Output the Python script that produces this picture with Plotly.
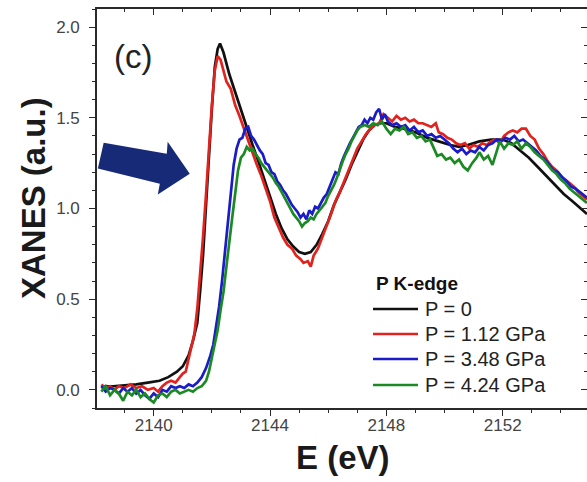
import plotly.graph_objects as go

# P K-edge XANES spectra at four pressures
energy_p0 = [2138.2, 2138.6, 2139.0, 2139.4, 2139.8, 2140.2, 2140.5, 2140.8, 2141.0, 2141.2,
             2141.35, 2141.5, 2141.6, 2141.7, 2141.8, 2141.9, 2142.0, 2142.1, 2142.2, 2142.28,
             2142.4, 2142.6, 2142.8, 2143.0, 2143.2, 2143.4, 2143.6, 2143.8, 2144.0, 2144.2,
             2144.4, 2144.6, 2144.8, 2145.0, 2145.2, 2145.4, 2145.6, 2145.8, 2146.0, 2146.2,
             2146.4, 2146.6, 2146.8, 2147.0, 2147.2, 2147.4, 2147.6, 2147.8, 2148.0, 2148.3,
             2148.6, 2149.0, 2149.4, 2149.8, 2150.2, 2150.5, 2150.8, 2151.2, 2151.6, 2152.0,
             2152.3, 2152.6, 2152.9, 2153.2, 2153.5, 2153.8, 2154.1, 2154.4, 2154.7, 2154.9]
xanes_p0 = [0.02, 0.02, 0.025, 0.03, 0.04, 0.05, 0.07, 0.10, 0.13, 0.19,
            0.27, 0.37, 0.55, 0.75, 1.02, 1.30, 1.55, 1.78, 1.88, 1.91,
            1.86, 1.74, 1.64, 1.55, 1.45, 1.35, 1.26, 1.16, 1.06, 0.97,
            0.89, 0.83, 0.79, 0.76, 0.75, 0.76, 0.80, 0.86, 0.93, 1.02,
            1.09, 1.16, 1.24, 1.31, 1.38, 1.43, 1.46, 1.47, 1.47, 1.45,
            1.44, 1.42, 1.39, 1.37, 1.35, 1.34, 1.35, 1.37, 1.38, 1.38,
            1.36, 1.32, 1.28, 1.23, 1.18, 1.13, 1.08, 1.04, 1.00, 0.97]

energy_p112 = [2138.2, 2138.35, 2138.5, 2138.65, 2138.8, 2139.0, 2139.2, 2139.4, 2139.6, 2139.8,
               2140.0, 2140.15, 2140.3, 2140.45, 2140.6, 2140.75, 2140.9, 2141.0, 2141.1, 2141.2,
               2141.3, 2141.4, 2141.5, 2141.6, 2141.7, 2141.8, 2141.9, 2142.0, 2142.1, 2142.2,
               2142.3, 2142.4, 2142.5, 2142.65, 2142.8, 2142.95, 2143.1, 2143.25, 2143.4, 2143.55,
               2143.7, 2143.85, 2144.0, 2144.15, 2144.3, 2144.45, 2144.6, 2144.75, 2144.9, 2145.05,
               2145.15, 2145.3, 2145.4, 2145.5, 2145.65, 2145.8, 2145.95, 2146.1, 2146.25, 2146.4,
               2146.55, 2146.7, 2146.85, 2147.0, 2147.15, 2147.3, 2147.45, 2147.6, 2147.75, 2147.9,
               2148.05, 2148.2, 2148.35, 2148.5, 2148.65, 2148.8, 2148.95, 2149.1, 2149.25, 2149.4,
               2149.55, 2149.7, 2149.8, 2149.95, 2150.1, 2150.25, 2150.4, 2150.55, 2150.7, 2150.85,
               2151.0, 2151.15, 2151.3, 2151.45, 2151.6, 2151.75, 2151.9, 2152.05, 2152.2, 2152.35,
               2152.5, 2152.65, 2152.8, 2152.95, 2153.1, 2153.25, 2153.4, 2153.55, 2153.7, 2153.85,
               2154.0, 2154.15, 2154.3, 2154.45, 2154.6, 2154.75, 2154.9]
xanes_p112 = [0.03, 0.01, 0.02, 0.00, 0.02, 0.01, 0.03, 0.01, 0.02, 0.00,
              0.01, -0.01, 0.02, 0.04, 0.05, 0.04, 0.07, 0.09, 0.10, 0.17,
              0.23, 0.31, 0.45, 0.64, 0.85, 1.08, 1.34, 1.57, 1.76, 1.84,
              1.82, 1.76, 1.70, 1.66, 1.57, 1.51, 1.44, 1.37, 1.31, 1.24,
              1.18, 1.11, 1.04, 0.95, 0.89, 0.84, 0.80, 0.78, 0.74, 0.72,
              0.70, 0.71, 0.68, 0.74, 0.78, 0.84, 0.90, 0.97, 1.04, 1.09,
              1.15, 1.21, 1.27, 1.33, 1.37, 1.41, 1.44, 1.46, 1.47, 1.52,
              1.50, 1.48, 1.51, 1.49, 1.50, 1.48, 1.49, 1.47, 1.47, 1.46,
              1.45, 1.47, 1.42, 1.41, 1.39, 1.38, 1.36, 1.35, 1.36, 1.33,
              1.35, 1.34, 1.36, 1.35, 1.37, 1.38, 1.36, 1.40, 1.42, 1.43,
              1.42, 1.44, 1.44, 1.40, 1.38, 1.33, 1.30, 1.26, 1.23, 1.21,
              1.18, 1.16, 1.14, 1.12, 1.09, 1.07, 1.05]

energy_p348 = [2138.2, 2138.35, 2138.5, 2138.65, 2138.8, 2138.95, 2139.1, 2139.25, 2139.4, 2139.55,
               2139.7, 2139.85, 2140.0, 2140.15, 2140.3, 2140.45, 2140.6, 2140.75, 2140.9, 2141.05,
               2141.2, 2141.35, 2141.5, 2141.65, 2141.8, 2141.95, 2142.05, 2142.15, 2142.25, 2142.35,
               2142.45, 2142.55, 2142.65, 2142.75, 2142.85, 2142.95, 2143.05, 2143.15, 2143.25, 2143.35,
               2143.45, 2143.55, 2143.65, 2143.75, 2143.85, 2143.95, 2144.05, 2144.15, 2144.25, 2144.35,
               2144.45, 2144.55, 2144.65, 2144.75, 2144.85, 2144.95, 2145.05, 2145.15, 2145.25, 2145.35,
               2145.45, 2145.55, 2145.65, 2145.75, 2145.85, 2145.95, 2146.05, 2146.15, 2146.25, 2146.35,
               2146.45, 2146.55, 2146.65, 2146.75, 2146.85, 2146.95, 2147.05, 2147.15, 2147.25, 2147.35,
               2147.45, 2147.55, 2147.65, 2147.75, 2147.85, 2147.95, 2148.05, 2148.2, 2148.35, 2148.5,
               2148.65, 2148.8, 2148.95, 2149.1, 2149.25, 2149.4, 2149.55, 2149.7, 2149.85, 2150.0,
               2150.15, 2150.3, 2150.45, 2150.6, 2150.75, 2150.9, 2151.05, 2151.2, 2151.35, 2151.5,
               2151.65, 2151.8, 2151.95, 2152.1, 2152.25, 2152.4, 2152.55, 2152.7, 2152.85, 2153.0,
               2153.15, 2153.3, 2153.45, 2153.6, 2153.75, 2153.9, 2154.05, 2154.2, 2154.35, 2154.5,
               2154.65, 2154.8, 2154.9]
xanes_p348 = [0.02, -0.01, 0.01, 0.00, -0.02, 0.01, -0.01, 0.01, -0.02, 0.00,
              -0.03, -0.05, -0.02, -0.04, 0.00, -0.01, 0.02, 0.01, 0.02, 0.01,
              0.03, 0.02, 0.04, 0.07, 0.12, 0.19, 0.25, 0.35, 0.46, 0.60,
              0.76, 0.93, 1.10, 1.24, 1.33, 1.38, 1.39, 1.44, 1.45, 1.40,
              1.38, 1.35, 1.32, 1.30, 1.25, 1.24, 1.20, 1.19, 1.15, 1.13,
              1.10, 1.08, 1.05, 1.02, 1.00, 0.98, 0.95, 0.97, 0.94, 0.99,
              0.97, 1.01, 1.00, 1.03, 1.06, 1.08, 1.12, 1.15, 1.20, 1.19,
              1.25, 1.29, 1.33, 1.36, 1.39, 1.42, 1.45, 1.46, 1.49, 1.47,
              1.50, 1.49, 1.53, 1.55, 1.49, 1.52, 1.48, 1.46, 1.47, 1.45,
              1.46, 1.43, 1.45, 1.42, 1.43, 1.40, 1.41, 1.39, 1.40, 1.38,
              1.36, 1.33, 1.31, 1.33, 1.30, 1.32, 1.31, 1.34, 1.32, 1.35,
              1.36, 1.38, 1.37, 1.39, 1.38, 1.40, 1.37, 1.38, 1.36, 1.34,
              1.32, 1.29, 1.27, 1.24, 1.21, 1.20, 1.17, 1.15, 1.12, 1.11,
              1.09, 1.07, 1.06]

energy_p424 = [2138.2, 2138.35, 2138.5, 2138.65, 2138.8, 2138.95, 2139.1, 2139.25, 2139.4, 2139.55,
               2139.7, 2139.85, 2140.0, 2140.15, 2140.3, 2140.45, 2140.6, 2140.75, 2140.9, 2141.05,
               2141.2, 2141.35, 2141.5, 2141.65, 2141.8, 2141.9, 2142.0, 2142.1, 2142.2, 2142.3,
               2142.4, 2142.5, 2142.6, 2142.7, 2142.8, 2142.9, 2143.0, 2143.1, 2143.2, 2143.3,
               2143.4, 2143.5, 2143.6, 2143.7, 2143.8, 2143.9, 2144.0, 2144.1, 2144.2, 2144.3,
               2144.4, 2144.5, 2144.6, 2144.7, 2144.8, 2144.9, 2145.0, 2145.1, 2145.2, 2145.3,
               2145.4, 2145.5, 2145.6, 2145.7, 2145.8, 2145.9, 2146.0, 2146.1, 2146.2, 2146.3,
               2146.4, 2146.5, 2146.6, 2146.7, 2146.8, 2146.9, 2147.0, 2147.1, 2147.25, 2147.4,
               2147.55, 2147.7, 2147.85, 2148.0, 2148.15, 2148.3, 2148.45, 2148.6, 2148.75, 2148.9,
               2149.05, 2149.2, 2149.35, 2149.5, 2149.65, 2149.75, 2149.9, 2150.05, 2150.2, 2150.35,
               2150.5, 2150.65, 2150.8, 2150.95, 2151.1, 2151.2, 2151.35, 2151.5, 2151.65, 2151.75,
               2151.9, 2152.05, 2152.2, 2152.35, 2152.5, 2152.65, 2152.8, 2152.95, 2153.1, 2153.25,
               2153.4, 2153.55, 2153.7, 2153.85, 2154.0, 2154.15, 2154.3, 2154.45, 2154.6, 2154.75,
               2154.9]
xanes_p424 = [-0.01, 0.02, -0.03, 0.00, -0.02, -0.06, -0.01, -0.03, 0.00, -0.04,
              -0.02, -0.05, -0.07, -0.03, -0.02, -0.04, -0.01, 0.00, -0.02, -0.01,
              0.00, -0.01, 0.01, 0.02, 0.05, 0.10, 0.18, 0.26, 0.33, 0.44,
              0.54, 0.68, 0.80, 0.95, 1.08, 1.21, 1.28, 1.30, 1.34, 1.32,
              1.33, 1.30, 1.28, 1.25, 1.23, 1.21, 1.19, 1.17, 1.14, 1.12,
              1.09, 1.06, 1.03, 1.00, 0.97, 0.95, 0.93, 0.90, 0.92, 0.93,
              0.95, 0.94, 0.97, 0.99, 1.01, 1.03, 1.07, 1.10, 1.13, 1.17,
              1.22, 1.26, 1.30, 1.33, 1.37, 1.40, 1.43, 1.45, 1.46, 1.45,
              1.47, 1.46, 1.48, 1.44, 1.41, 1.44, 1.43, 1.45, 1.41, 1.42,
              1.39, 1.40, 1.37, 1.38, 1.33, 1.29, 1.30, 1.27, 1.28, 1.25,
              1.27, 1.23, 1.21, 1.25, 1.28, 1.31, 1.27, 1.29, 1.24, 1.29,
              1.37, 1.33, 1.36, 1.35, 1.37, 1.33, 1.36, 1.34, 1.31, 1.29,
              1.27, 1.24, 1.21, 1.19, 1.16, 1.14, 1.11, 1.09, 1.07, 1.05,
              1.03]

series_names = ["P = 0", "P = 1.12 GPa", "P = 3.48 GPa", "P = 4.24 GPa"]
series_colors = ["#111111", "#e0231f", "#1b1bc8", "#1c8a24"]
series_x = [energy_p0, energy_p112, energy_p348, energy_p424]
series_y = [xanes_p0, xanes_p112, xanes_p348, xanes_p424]

x_ticks = [2140, 2144, 2148, 2152]
y_ticks = [0.0, 0.5, 1.0, 1.5, 2.0]
x_range = [2138.05, 2154.9]
y_range = [-0.1, 2.1]

FONT = "Liberation Sans, Arial, sans-serif"
AXIS_COLOR = "#2a2a2a"
TICK_FONT = dict(family=FONT, size=17, color="#444444")
LINE_W = 2.7

fig = go.Figure()
for name, color, xs, ys in zip(series_names, series_colors, series_x, series_y):
    fig.add_trace(go.Scatter(x=xs, y=ys, mode="lines", name=name, showlegend=False,
                             line=dict(color=color, width=LINE_W)))

# Transparent anchor trace so the mirrored top/right axes get drawn
fig.add_trace(go.Scatter(x=x_range, y=y_range, xaxis="x2", yaxis="y2", mode="markers",
                         marker=dict(opacity=0), showlegend=False, hoverinfo="skip"))

# Block arrow pointing at the absorption edge
arrow_pts = [(2138.28, 1.363), (2140.45, 1.302), (2140.48, 1.368), (2141.24, 1.192),
             (2140.14, 1.077), (2140.21, 1.137), (2138.08, 1.220)]
arrow_path = "M " + " L ".join(f"{x},{y}" for x, y in arrow_pts) + " Z"
fig.add_shape(type="path", path=arrow_path, xref="x", yref="y",
              fillcolor="#172a78", line=dict(color="#172a78", width=0))

# Legend block (title + line samples + labels), placed in pixel-derived paper coords
PLOT_L, PLOT_R, PLOT_T, PLOT_B = 97, 587, 9, 408
def px_x(p):
    return (p - PLOT_L) / (PLOT_R - PLOT_L)
def px_y(p):
    return (PLOT_B - p) / (PLOT_B - PLOT_T)

fig.add_annotation(text="<b>P K-edge</b>", xref="paper", yref="paper",
                   x=px_x(374), y=px_y(283), xanchor="left", yanchor="middle",
                   showarrow=False, font=dict(family=FONT, size=19, color="#111111"))
row_y = [309, 334, 359, 385]
for name, color, ry in zip(series_names, series_colors, row_y):
    fig.add_shape(type="line", xref="paper", yref="paper",
                  x0=px_x(373), x1=px_x(418), y0=px_y(ry), y1=px_y(ry),
                  line=dict(color=color, width=LINE_W))
    fig.add_annotation(text=name, xref="paper", yref="paper",
                       x=px_x(423), y=px_y(ry), xanchor="left", yanchor="middle",
                       showarrow=False, font=dict(family=FONT, size=20, color="#222222"))

# Panel label and axis titles
fig.add_annotation(text="(c)", xref="paper", yref="paper", x=px_x(133), y=px_y(56),
                   xanchor="center", yanchor="middle", showarrow=False,
                   font=dict(family=FONT, size=33, color="#222222"))
fig.add_annotation(text="<b>E (eV)</b>", xref="paper", yref="paper", x=px_x(343), y=px_y(457),
                   xanchor="center", yanchor="middle", showarrow=False,
                   font=dict(family=FONT, size=33, color="#1a1a1a"))
fig.add_annotation(text="<b>XANES (a.u.)</b>", xref="paper", yref="paper", x=px_x(33), y=px_y(198),
                   xanchor="center", yanchor="middle", showarrow=False, textangle=-90,
                   font=dict(family=FONT, size=33, color="#1a1a1a"))

fig.update_layout(
    width=587, height=482,
    margin=dict(l=PLOT_L, r=0, t=PLOT_T, b=482 - PLOT_B, pad=0),
    paper_bgcolor="white", plot_bgcolor="white",
    xaxis=dict(range=x_range, tickvals=x_ticks, ticktext=[str(v) for v in x_ticks],
               ticks="outside", ticklen=6, tickwidth=1.3, tickcolor=AXIS_COLOR,
               minor=dict(dtick=1, tick0=2140, ticks="outside", ticklen=3.5,
                          tickwidth=1.2, tickcolor=AXIS_COLOR),
               showline=True, linecolor=AXIS_COLOR, linewidth=1.6,
               showgrid=False, zeroline=False, tickfont=TICK_FONT,
               ticklabelstandoff=-5),
    yaxis=dict(range=y_range, tickvals=y_ticks, tickformat=".1f",
               ticks="outside", ticklen=6, tickwidth=1.3, tickcolor=AXIS_COLOR,
               minor=dict(dtick=0.1, tick0=0, ticks="outside", ticklen=3.5,
                          tickwidth=1.2, tickcolor=AXIS_COLOR),
               showline=True, linecolor=AXIS_COLOR, linewidth=1.6,
               showgrid=False, zeroline=False, tickfont=TICK_FONT,
               ticklabelstandoff=6),
    xaxis2=dict(range=x_range, overlaying="x", side="top", tickvals=x_ticks,
                ticks="inside", ticklen=6, tickwidth=1.3, tickcolor=AXIS_COLOR,
                minor=dict(dtick=1, tick0=2140, ticks="inside", ticklen=3.5,
                           tickwidth=1.2, tickcolor=AXIS_COLOR),
                showticklabels=False, showline=True, linecolor=AXIS_COLOR,
                linewidth=1.6, showgrid=False, zeroline=False),
    yaxis2=dict(range=y_range, overlaying="y", side="right", tickvals=y_ticks,
                ticks="inside", ticklen=6, tickwidth=1.3, tickcolor=AXIS_COLOR,
                minor=dict(dtick=0.1, tick0=0, ticks="inside", ticklen=3.5,
                           tickwidth=1.2, tickcolor=AXIS_COLOR),
                showticklabels=False, showline=True, linecolor=AXIS_COLOR,
                linewidth=1.6, showgrid=False, zeroline=False),
)

fig.write_html("out.html")
